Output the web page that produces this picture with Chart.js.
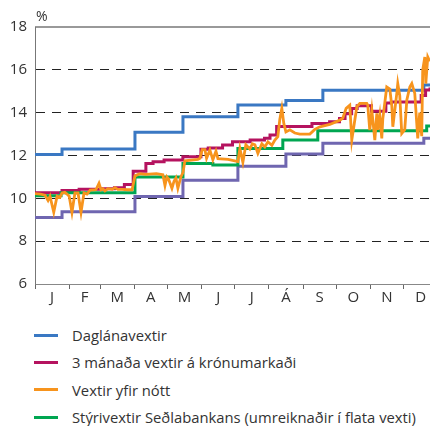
<!DOCTYPE html>
<html lang="is">
<head>
  <meta charset="UTF-8">
  <title>Vextir</title>
  <script src="https://cdn.jsdelivr.net/npm/chart.js"></script>
<style>
  body {
    margin: 0;
    padding: 0;
    background: #fff;
    font-family: "Open Sans", sans-serif;
    color: #333;
  }

  .wrap {
    width: 430px;
    height: 426px;
    position: relative;
    overflow: hidden;
  }

  #legend {
    margin-top: 11.5px;
  }

  #legend .row {
    height: 27.3px;
    display: flex;
    align-items: center;
    font-size: 14.8px;
    white-space: nowrap;
  }

  #legend .sw {
    display: inline-block;
    width: 24px;
    height: 3px;
    margin-left: 34px;
    margin-right: 14px;
  }
</style>
</head>

<body>
<div class="wrap">
  <canvas id="chart" width="430" height="310"></canvas>
  <div id="legend"></div>
</div>

<script>
  // x values are days of the year, y values in %
  const months = ['J', 'F', 'M', 'A', 'M', 'J', 'J', 'Á', 'S', 'O', 'N', 'D'];
  const monthStarts = [0, 31, 59, 90, 120, 151, 181, 212, 243, 273, 304, 334];
  const monthMids = [15.5, 45, 74.5, 105, 135.5, 166, 196.5, 227.5, 258, 288.5, 319, 349.5];
  const yTicks = [6, 8, 10, 12, 14, 16, 18];

  // Daglánavextir
  const dagDays = [0, 24.5, 90.6, 134.1, 183.9, 227.4, 260.9, 352.4, 358];
  const dagVals = [12.05, 12.3, 13.08, 13.81, 14.36, 14.57, 15.05, 15.29, 15.29];

  // 3 mánaða vextir á krónumarkaði
  const manDays = [0, 24.5, 40, 60, 72, 81, 89, 100.5, 107, 117, 134, 150.4, 157, 170, 179, 195, 208, 213, 219, 251, 267, 276, 281, 287, 292, 303, 305, 318, 323, 350, 354, 358];
  const manVals = [10.26, 10.36, 10.42, 10.45, 10.5, 10.65, 11.27, 11.63, 11.71, 11.79, 11.94, 12.29, 12.35, 12.49, 12.64, 12.72, 12.8, 12.96, 13.35, 13.5, 13.58, 13.73, 13.95, 14.2, 14.32, 14.32, 14.07, 14.45, 14.5, 14.8, 15.06, 15.18];

  // Vextir yfir nótt
  const notDays = [0, 5, 9, 11.8, 13.6, 17, 20, 22.6, 24.5, 27, 29, 31, 33.5, 36.2, 39, 41.7, 44.4, 47.1, 50, 55, 56.2, 58, 59.8, 61.6, 63.4, 66, 70, 72.5, 75, 79, 84, 88,
    90.6, 95, 100, 110, 115.9, 117.8, 119.5, 121, 124.1, 126, 127.7, 129.5, 132.2, 134.1, 135.9, 147.6, 149.5, 151.5, 154, 155.5, 158.5, 161.2, 164, 165.8, 175,
    183.9, 185.7, 188.4, 191.1, 194.7, 197, 199.3, 202, 205.6, 208.3, 211.1, 214.7, 217.4, 220.1, 221.9, 223.7, 225.5, 227.4, 231, 235.5, 240, 249.1, 253.6, 258.2,
    267.2, 276.3, 279, 282, 285.3, 287.1, 291.7, 294.4, 300.7, 301.6, 303.4, 305.3, 308, 309.8, 310.7, 312.5, 314.3, 315.2, 318.8, 321.6, 323.4, 324.3, 327.9,
    328.8, 330.6, 332.4, 335.1, 337, 339.7, 341.5, 344.2, 346.9, 348.7, 350.5, 351.4, 353.3, 354.2, 355.1, 356, 357.8];
  const notVals = [10.22, 10.2, 10.15, 9.9, 10.1, 9.35, 10.1, 10.05, 10.25, 10.28, 10.2, 10.1, 9.35, 10.25, 10.25, 9.35, 10.25, 10.2, 10.38, 10.4, 10.5, 10.7, 10.4, 10.45, 10.35, 10.45, 10.42, 10.5, 10.42, 10.42, 10.4, 10.4,
    11.05, 11.15, 11.12, 11.15, 11.1, 10.6, 11.0, 10.9, 10.47, 10.8, 10.95, 10.47, 11.0, 11.2, 11.75, 11.82, 11.87, 12.27, 12.27, 11.87, 12.26, 11.8, 12.2, 11.85, 11.82,
    11.72, 12.33, 11.68, 12.5, 12.3, 12.55, 12.5, 12.1, 12.55, 12.4, 12.64, 12.48, 12.72, 12.88, 13.7, 14.2, 13.5, 13.1, 13.2, 13.05, 13.0, 13.0, 13.22, 13.34,
    13.45, 13.65, 13.75, 14.2, 14.35, 12.72, 14.28, 14.43, 14.43, 14.35, 13.19, 14.1, 12.72, 13.97, 13.2, 13.86, 12.8, 13.7, 15.2, 15.1, 14.3, 13.34, 14.9,
    15.36, 14.8, 13.03, 13.2, 14.59, 15.2, 15.36, 14.9, 12.8, 14.0, 12.9, 15.99, 16.6, 15.36, 16.0, 16.6, 16.4];

  // Stýrivextir Seðlabankans
  const styDays = [0, 23.6, 90.6, 134.1, 161.2, 183.9, 224.6, 256.3, 355, 358];
  const styVals = [10.12, 10.26, 11.0, 11.63, 11.56, 12.33, 12.72, 13.15, 13.38, 13.38];

  // purple series, not in the legend
  const innDays = [0, 24.5, 90.6, 134.1, 183.9, 227.4, 260.9, 352.4, 358];
  const innVals = [9.1, 9.37, 10.08, 10.84, 11.5, 12.07, 12.57, 12.8, 12.8];

  function pts(days, vals) {
    return days.map((d, i) => ({ x: d, y: vals[i] }));
  }

  const tickFont = { family: '"Open Sans", sans-serif', size: 15 };

  const datasets = [
    { label: 'Vextir yfir nótt', data: pts(notDays, notVals), borderColor: '#f7941d', borderWidth: 2.8, order: 0 },
    { label: 'Stýrivextir Seðlabankans (umreiknaðir í flata vexti)', data: pts(styDays, styVals), borderColor: '#00a651', borderWidth: 3, stepped: true, order: 1 },
    { label: '3 mánaða vextir á krónumarkaði', data: pts(manDays, manVals), borderColor: '#b5135f', borderWidth: 3, stepped: true, order: 2 },
    { label: 'Daglánavextir', data: pts(dagDays, dagVals), borderColor: '#3a78c3', borderWidth: 3, stepped: true, order: 3 },
    { label: '', data: pts(innDays, innVals), borderColor: '#6f66b0', borderWidth: 3, stepped: true, order: 4 }
  ];

  const legendOrder = ['Daglánavextir', '3 mánaða vextir á krónumarkaði', 'Vextir yfir nótt', 'Stýrivextir Seðlabankans (umreiknaðir í flata vexti)'];

  // top frame line and the % sign
  const framePlugin = {
    id: 'frame',
    afterDraw(chart) {
      const { ctx, chartArea } = chart;
      const y = chart.scales.y.getPixelForValue(18);
      ctx.save();
      ctx.strokeStyle = '#777';
      ctx.lineWidth = 1.5;
      ctx.beginPath();
      ctx.moveTo(chartArea.left, y);
      ctx.lineTo(chartArea.right, y);
      ctx.stroke();
      ctx.fillStyle = '#333';
      ctx.font = '14px "Open Sans", sans-serif';
      ctx.textBaseline = 'alphabetic';
      ctx.fillText('%', chartArea.left + 1, y - 6);
      ctx.restore();
    }
  };

  const ctx = document.getElementById('chart').getContext('2d');
  const chart = new Chart(ctx, {
    type: 'line',
    data: { datasets: datasets },
    options: {
      responsive: false,
      animation: false,
      layout: { padding: { top: 27, right: 0, left: 0, bottom: 0 } },
      elements: { point: { radius: 0 }, line: { tension: 0, fill: false } },
      plugins: { legend: { display: false }, tooltip: { enabled: false } },
      scales: {
        x: {
          type: 'linear',
          min: 0,
          max: 358,
          afterBuildTicks: (axis) => {
            const t = monthStarts.concat(monthMids).sort((a, b) => a - b);
            axis.ticks = t.map(v => ({ value: v }));
          },
          afterFit: (axis) => { axis.height = 26; },
          grid: {
            drawOnChartArea: false,
            tickLength: 5,
            tickWidth: 1,
            tickColor: (c) => monthStarts.includes(c.tick.value) ? '#666' : 'rgba(0,0,0,0)'
          },
          border: { color: '#888', width: 1 },
          ticks: {
            autoSkip: false,
            maxRotation: 0,
            padding: 0,
            color: '#333',
            font: tickFont,
            callback: (v) => {
              const i = monthMids.indexOf(v);
              return i >= 0 ? months[i] : '';
            }
          }
        },
        y: {
          min: 6,
          max: 18,
          afterBuildTicks: (axis) => { axis.ticks = yTicks.map(v => ({ value: v })); },
          afterFit: (axis) => { axis.width = 35; },
          grid: {
            drawTicks: false,
            lineWidth: 1,
            color: (c) => (c.tick.value === 6 || c.tick.value === 18) ? 'rgba(0,0,0,0)' : '#222'
          },
          border: { color: '#777', width: 1, dash: [9, 7] },
          ticks: { padding: 8, color: '#333', font: tickFont }
        }
      }
    },
    plugins: [framePlugin]
  });

  // legend as html list
  const legend = document.getElementById('legend');
  legendOrder.forEach(name => {
    const ds = datasets.find(d => d.label === name);
    const row = document.createElement('div');
    row.className = 'row';
    const sw = document.createElement('span');
    sw.className = 'sw';
    sw.style.background = ds.borderColor;
    const txt = document.createElement('span');
    txt.textContent = name;
    row.appendChild(sw);
    row.appendChild(txt);
    legend.appendChild(row);
  });
</script>

</body>
</html>
